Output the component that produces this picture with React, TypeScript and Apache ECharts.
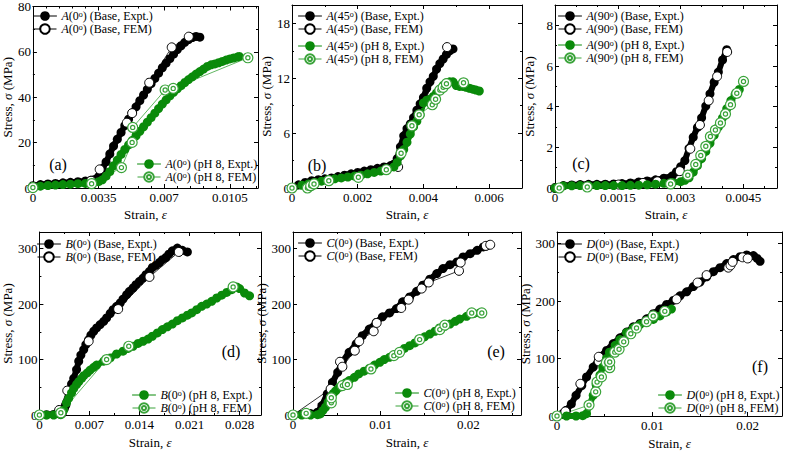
import React, { useEffect, useRef } from "react";
import * as echarts from "echarts";

type Pt = [number, number];

// ---------------- data (strain, stress MPa) ----------------
const A0_BASE_EXPT: Pt[] = [
  [0, 1.0], [0.0004, 1.5], [0.0008, 1.8], [0.0012, 2.0], [0.0016, 2.3], [0.002, 2.5], [0.0024, 2.8], [0.0028, 3.1],
  [0.0031, 3.4], [0.0033, 3.8], [0.0035, 5.0], [0.0037, 8.5], [0.0039, 11.5], [0.0041, 15.0], [0.0043, 18.5],
  [0.0045, 21.5], [0.0047, 24.5], [0.0049, 27.5], [0.0051, 30.3], [0.0053, 33.0], [0.0055, 35.8], [0.0057, 38.5],
  [0.0059, 41.0], [0.0061, 43.5], [0.0063, 46.0], [0.0065, 48.3], [0.0067, 50.6], [0.0069, 53.0], [0.0071, 55.0],
  [0.0073, 57.0], [0.0075, 59.0], [0.0077, 61.0], [0.0079, 62.7], [0.0081, 64.2], [0.0083, 65.4], [0.0085, 66.3],
  [0.0087, 66.8], [0.0089, 66.5],
];
const A0_BASE_FEM: Pt[] = [
  [0, 0.3], [0.0031, 3.2], [0.00356, 8.2], [0.00501, 28.8], [0.00529, 33.0], [0.0062, 46.4], [0.0074, 62.0], [0.00831, 66.7],
];
const A0_PH_EXPT: Pt[] = [
  [0, 0.4], [0.0004, 0.8], [0.0008, 1.1], [0.0012, 1.3], [0.0016, 1.5], [0.002, 1.7], [0.0024, 1.9], [0.0028, 2.0],
  [0.0032, 2.2], [0.0035, 2.8], [0.0037, 3.6], [0.0039, 5.2], [0.0041, 7.2], [0.0043, 9.8], [0.0045, 12.3],
  [0.0047, 14.8], [0.0049, 17.0], [0.0051, 19.0], [0.0053, 21.0], [0.0055, 23.0], [0.0057, 25.0], [0.0059, 27.0],
  [0.0061, 29.0], [0.0063, 31.0], [0.0065, 33.0], [0.0067, 35.0], [0.0069, 37.0], [0.0071, 38.8], [0.0073, 40.6],
  [0.0075, 42.2], [0.0077, 43.7], [0.0079, 45.1], [0.0081, 46.5], [0.0083, 47.8], [0.0085, 49.0], [0.0087, 50.2],
  [0.0089, 51.3], [0.0091, 52.4], [0.0093, 53.6], [0.0095, 54.3], [0.0097, 54.7], [0.0099, 55.2], [0.0101, 55.8],
  [0.0103, 56.4], [0.0105, 56.9], [0.0107, 57.3], [0.0109, 57.7], [0.011, 58.0],
];
const A0_PH_FEM: Pt[] = [
  [0, 0.2], [0.00313, 1.9], [0.00472, 9.0], [0.00529, 20.1], [0.00532, 26.7], [0.00705, 43.2], [0.00748, 43.9], [0.01146, 57.4],
];

const A45_BASE_EXPT: Pt[] = [
  [0, 0], [0.0002, 0.35], [0.0004, 0.6], [0.0006, 0.8], [0.0008, 0.9], [0.001, 1.0], [0.0012, 1.1], [0.0014, 1.25],
  [0.0016, 1.4], [0.0018, 1.55], [0.002, 1.7], [0.0022, 1.85], [0.0024, 2.0], [0.0026, 2.15], [0.0028, 2.3],
  [0.003, 2.45], [0.0031, 2.6], [0.0032, 3.2], [0.0033, 4.5], [0.0034, 5.7], [0.0035, 6.5], [0.0036, 7.0],
  [0.0037, 7.7], [0.0038, 8.5], [0.0039, 9.2], [0.004, 9.9], [0.0041, 10.9], [0.0042, 11.6], [0.0043, 12.2],
  [0.0044, 13.0], [0.0045, 13.6], [0.0046, 14.1], [0.0047, 14.6], [0.0048, 15.0], [0.0049, 15.2],
];
const A45_BASE_FEM: Pt[] = [[0, 0], [0.00323, 2.3], [0.00472, 15.4]];
const A45_PH_EXPT: Pt[] = [
  [0, 0], [0.0003, 0.3], [0.0005, 0.45], [0.0007, 0.6], [0.0009, 0.75], [0.0011, 0.9], [0.0013, 1.0], [0.0015, 1.1],
  [0.0017, 1.2], [0.0019, 1.3], [0.0021, 1.4], [0.0023, 1.55], [0.0025, 1.7], [0.0027, 1.85], [0.0029, 2.0],
  [0.0031, 2.3], [0.0032, 2.8], [0.0033, 3.5], [0.0034, 4.2], [0.0035, 5.0], [0.0036, 5.9], [0.0037, 6.7],
  [0.0038, 7.3], [0.0039, 8.0], [0.004, 9.3], [0.0041, 9.6], [0.0042, 9.7], [0.0043, 10.0], [0.0044, 10.4],
  [0.0045, 10.8], [0.0046, 11.2], [0.0047, 11.5], [0.0048, 11.6], [0.0049, 11.6], [0.005, 11.2], [0.0051, 11.1],
  [0.0052, 11.1], [0.0053, 11.0], [0.0054, 10.9], [0.0055, 10.8], [0.0056, 10.7], [0.0057, 10.6],
];
const A45_PH_FEM: Pt[] = [
  [0, 0], [0.00047, 0], [0.00057, 0.25], [0.00067, 0.44], [0.00112, 0.8], [0.00202, 1.17], [0.00287, 2.0],
  [0.00332, 3.8], [0.00365, 6.8], [0.00387, 8.0], [0.00427, 9.1], [0.00437, 9.7], [0.0045, 10.7], [0.0046, 11.0],
  [0.0047, 11.4], [0.00522, 11.5],
];

const A90_BASE_EXPT: Pt[] = [
  [0, 0], [0.0002, 0.12], [0.0004, 0.15], [0.0006, 0.17], [0.0008, 0.18], [0.001, 0.18], [0.0012, 0.19], [0.0014, 0.2],
  [0.0016, 0.22], [0.0018, 0.25], [0.002, 0.3], [0.0022, 0.35], [0.0024, 0.4], [0.0026, 0.48], [0.0028, 0.6],
  [0.0029, 0.8], [0.003, 1.05], [0.0031, 1.35], [0.0032, 1.95], [0.0033, 2.5], [0.0034, 2.98], [0.0035, 3.45],
  [0.0036, 4.03], [0.0037, 4.63], [0.0038, 5.2], [0.0039, 5.7], [0.004, 6.3], [0.0041, 6.8],
];
const A90_BASE_FEM: Pt[] = [
  [0, 0], [0.00152, 0.17], [0.0021, 0.25], [0.00244, 0.33], [0.00298, 0.83], [0.00323, 1.93], [0.00346, 3.1],
  [0.00367, 4.3], [0.00387, 5.49], [0.00411, 6.69],
];
const A90_PH_EXPT: Pt[] = [
  [0, 0], [0.0002, 0.1], [0.0004, 0.11], [0.0006, 0.12], [0.0008, 0.12], [0.001, 0.12], [0.0012, 0.12], [0.0014, 0.12],
  [0.0016, 0.12], [0.0018, 0.13], [0.002, 0.14], [0.0022, 0.16], [0.0024, 0.19], [0.0026, 0.23], [0.0028, 0.27],
  [0.003, 0.31], [0.0031, 0.38], [0.0032, 0.5], [0.0033, 0.78], [0.0034, 1.1], [0.0035, 1.45], [0.0036, 1.8],
  [0.0037, 2.2], [0.0038, 2.6], [0.0039, 3.0], [0.004, 3.45], [0.0041, 3.9], [0.0042, 4.3], [0.0043, 4.6], [0.0044, 4.85],
];
const A90_PH_FEM: Pt[] = [
  [0.0001, 0], [0.00077, 0.05], [0.00276, 0.2], [0.00317, 0.63], [0.00336, 1.16], [0.00348, 1.6], [0.0036, 2.05],
  [0.00371, 2.53], [0.00383, 2.85], [0.00395, 3.2], [0.00407, 3.64], [0.00419, 4.1], [0.00434, 4.66], [0.0045, 5.24],
];

const B0_BASE_EXPT: Pt[] = [
  [0, 0], [0.001, 0.5], [0.002, 1], [0.0028, 2], [0.0032, 3], [0.0035, 12], [0.0037, 18], [0.0041, 42], [0.0045, 56],
  [0.0048, 66], [0.0052, 82], [0.0055, 97], [0.0058, 108], [0.0062, 118], [0.0065, 127], [0.0069, 136], [0.0072, 144],
  [0.0076, 151], [0.008, 157], [0.0085, 163], [0.009, 169], [0.0094, 175], [0.0099, 183], [0.0103, 190], [0.0108, 196],
  [0.0113, 202], [0.0117, 209], [0.0122, 217], [0.0126, 223], [0.0131, 229], [0.0135, 235], [0.014, 241], [0.0145, 247],
  [0.0149, 253], [0.0154, 259], [0.0158, 266], [0.0163, 270], [0.0168, 275], [0.0172, 280], [0.0177, 284], [0.0181, 290],
  [0.0186, 296], [0.0193, 301], [0.02, 297], [0.0207, 294],
];
const B0_BASE_FEM: Pt[] = [[0, 0], [0.00276, 9], [0.0039, 44], [0.00689, 133], [0.01102, 191], [0.0154, 249], [0.0195, 294]];
const B0_PH_EXPT: Pt[] = [
  [0, 0], [0.001, 0], [0.002, 0], [0.003, 0.5], [0.0034, 9], [0.0038, 22], [0.0041, 30], [0.0045, 40], [0.0048, 48],
  [0.0052, 55], [0.0055, 60], [0.0059, 66], [0.0062, 71], [0.0067, 76], [0.0071, 81], [0.0076, 86], [0.008, 90],
  [0.009, 97], [0.0099, 103], [0.0108, 110], [0.0117, 115], [0.0124, 120], [0.0131, 124], [0.0138, 129], [0.0145, 133],
  [0.0152, 137], [0.0158, 142], [0.0165, 148], [0.0172, 154], [0.0179, 159], [0.0186, 164], [0.0193, 170], [0.02, 175],
  [0.0207, 180], [0.0213, 184], [0.022, 190], [0.0227, 196], [0.0234, 200], [0.0241, 205], [0.0248, 211], [0.0255, 216],
  [0.0262, 221], [0.0269, 226], [0.0276, 231], [0.028, 228], [0.0287, 220], [0.0294, 215],
];
const B0_PH_FEM: Pt[] = [[0, 0], [0.003, 4], [0.0094, 100], [0.0125, 124], [0.0271, 231]];

const C0_BASE_EXPT: Pt[] = [
  [0, 0], [0.001, 1], [0.002, 2.5], [0.0028, 5], [0.0033, 17], [0.0039, 38], [0.0045, 59], [0.0051, 77], [0.0056, 95],
  [0.0064, 113], [0.0072, 128], [0.0079, 143], [0.0087, 155], [0.0095, 167], [0.0102, 177], [0.011, 184], [0.0118, 192],
  [0.0125, 204], [0.0133, 213], [0.0141, 223], [0.0148, 234], [0.0156, 245], [0.0164, 255], [0.0171, 264], [0.0179, 271],
  [0.0187, 276], [0.0194, 285], [0.0202, 291], [0.021, 297], [0.0217, 303], [0.0221, 305],
];
const C0_BASE_FEM: Pt[] = [
  [0, 0], [0.00429, 47], [0.00536, 96], [0.00563, 87], [0.00705, 116], [0.00755, 133], [0.0092, 151], [0.00954, 166],
  [0.01234, 193], [0.01318, 208], [0.01467, 228], [0.01548, 239], [0.01893, 260], [0.01912, 275], [0.02199, 305], [0.02249, 307],
];
const C0_PH_EXPT: Pt[] = [
  [0, 0], [0.001, 0], [0.002, 0], [0.0028, 0.5], [0.0031, 2], [0.0034, 8], [0.0037, 14], [0.004, 23], [0.0043, 32],
  [0.0046, 39], [0.0049, 44], [0.0053, 50], [0.0056, 54], [0.006, 58], [0.0064, 62], [0.007, 68], [0.0075, 74],
  [0.0081, 79], [0.0087, 84], [0.0093, 90], [0.0099, 95], [0.0104, 100], [0.011, 104], [0.0116, 109], [0.0122, 114],
  [0.0127, 120], [0.0133, 125], [0.0139, 130], [0.0144, 136], [0.015, 141], [0.0156, 146], [0.0162, 151], [0.0167, 157],
  [0.0173, 160], [0.0179, 164], [0.0185, 169], [0.019, 173], [0.0198, 178], [0.0206, 183], [0.0213, 184],
];
const C0_PH_FEM: Pt[] = [
  [0, 0], [0.0015, 3], [0.00437, 22], [0.00437, 31], [0.00563, 53], [0.0062, 55], [0.00889, 83], [0.0115, 107],
  [0.01215, 113], [0.01444, 136], [0.01674, 154], [0.01732, 162], [0.02038, 184], [0.02153, 184],
];

const D0_BASE_EXPT: Pt[] = [
  [0, 0], [0.0006, 4], [0.001, 10], [0.0015, 21], [0.002, 36], [0.0026, 53], [0.0031, 68], [0.0038, 85], [0.0045, 103],
  [0.0052, 114], [0.0059, 126], [0.0066, 136], [0.0073, 146], [0.008, 155], [0.0087, 161], [0.0094, 169], [0.0101, 178],
  [0.0108, 186], [0.0115, 194], [0.0122, 201], [0.0129, 209], [0.0136, 216], [0.0143, 225], [0.015, 233], [0.0157, 242],
  [0.0164, 251], [0.0171, 258], [0.0178, 265], [0.0185, 272], [0.0192, 277], [0.0199, 280], [0.0206, 279], [0.021, 274],
  [0.0213, 269],
];
const D0_BASE_FEM: Pt[] = [
  [0, 0], [0.00088, 8], [0.00245, 56], [0.00438, 95], [0.00438, 103], [0.01254, 203], [0.01475, 232], [0.01569, 245],
  [0.01797, 258], [0.0182, 262], [0.01842, 268], [0.01947, 276], [0.02, 274],
];
const D0_PH_EXPT: Pt[] = [
  [0, 0], [0.001, 0], [0.002, 0], [0.0027, 0.5], [0.0031, 4], [0.0034, 19], [0.0038, 36], [0.0041, 55], [0.0045, 71],
  [0.0048, 85], [0.0052, 100], [0.0055, 111], [0.0061, 123], [0.0066, 133], [0.0073, 145], [0.008, 153], [0.0087, 159],
  [0.0094, 164], [0.0101, 168], [0.0108, 174], [0.0115, 181], [0.012, 186],
];
const D0_PH_FEM: Pt[] = [
  [0, 0], [0.00336, 19], [0.00406, 42], [0.0042, 59], [0.00466, 68], [0.00518, 93], [0.00553, 84], [0.00553, 94],
  [0.00606, 111], [0.00651, 116], [0.007, 129], [0.00774, 143], [0.00834, 153], [0.00939, 164], [0.01009, 174], [0.01131, 182],
];

// ---------------- styling / layout ----------------
const FONT = "Liberation Serif";
const BLACK = "#000000";
const GREEN = "#0a8a0a";
const GREEN_FEM = "#3aa33a";
const RING =
  "path://M10 0A10 10 0 1 1 -10 0A10 10 0 1 1 10 0ZM4.2 0A4.2 4.2 0 1 1 -4.2 0A4.2 4.2 0 1 1 4.2 0Z";

type Panel = {
  tag: string;
  spec: string;
  angle: string;
  grid: { left: number; top: number; width: number; height: number };
  x: { max: number; interval: number; minor: number };
  y: { max: number; interval: number; minor: number; showMax: boolean };
  yGap: number;
  xGap: number;
  tagPos: [number, number];
  legBase: [number, number];
  legPh: [number, number];
  data: [Pt[], Pt[], Pt[], Pt[]];
};

const PANELS: Panel[] = [
  {
    tag: "(a)", spec: "A", angle: "0",
    grid: { left: 29, top: 5, width: 229, height: 183 },
    x: { max: 0.012, interval: 0.0035, minor: 5 }, y: { max: 80, interval: 20, minor: 2, showMax: true },
    yGap: 15, xGap: 20, tagPos: [58, 164], legBase: [33, 10], legPh: [137, 158],
    data: [A0_BASE_EXPT, A0_BASE_FEM, A0_PH_EXPT, A0_PH_FEM],
  },
  {
    tag: "(b)", spec: "A", angle: "45",
    grid: { left: 292, top: 5, width: 230, height: 183 },
    x: { max: 0.007, interval: 0.002, minor: 2 }, y: { max: 20, interval: 6, minor: 2, showMax: false },
    yGap: 17, xGap: 20, tagPos: [317, 165], legBase: [298, 10], legPh: [298, 40],
    data: [A45_BASE_EXPT, A45_BASE_FEM, A45_PH_EXPT, A45_PH_FEM],
  },
  {
    tag: "(c)", spec: "A", angle: "90",
    grid: { left: 555, top: 5, width: 222, height: 183 },
    x: { max: 0.0053, interval: 0.0015, minor: 3 }, y: { max: 9, interval: 2, minor: 2, showMax: false },
    yGap: 19, xGap: 20, tagPos: [581, 163], legBase: [558, 10], legPh: [558, 39],
    data: [A90_BASE_EXPT, A90_BASE_FEM, A90_PH_EXPT, A90_PH_FEM],
  },
  {
    tag: "(d)", spec: "B", angle: "0",
    grid: { left: 30, top: 232, width: 231, height: 183 },
    x: { max: 0.031, interval: 0.007, minor: 2 }, y: { max: 330, interval: 100, minor: 2, showMax: false },
    yGap: 14, xGap: 21, tagPos: [231, 351], legBase: [37, 238], legPh: [132, 389],
    data: [B0_BASE_EXPT, B0_BASE_FEM, B0_PH_EXPT, B0_PH_FEM],
  },
  {
    tag: "(e)", spec: "C", angle: "0",
    grid: { left: 293, top: 232, width: 228, height: 183 },
    x: { max: 0.026, interval: 0.01, minor: 2 }, y: { max: 330, interval: 100, minor: 2, showMax: false },
    yGap: 16, xGap: 21, tagPos: [496, 351], legBase: [298, 237], legPh: [395, 387],
    data: [C0_BASE_EXPT, C0_BASE_FEM, C0_PH_EXPT, C0_PH_FEM],
  },
  {
    tag: "(f)", spec: "D", angle: "0",
    grid: { left: 557, top: 232, width: 225, height: 184 },
    x: { max: 0.0236, interval: 0.01, minor: 2 }, y: { max: 320, interval: 100, minor: 2, showMax: false },
    yGap: 17, xGap: 21, tagPos: [760, 366], legBase: [558, 238], legPh: [658, 389],
    data: [D0_BASE_EXPT, D0_BASE_FEM, D0_PH_EXPT, D0_PH_FEM],
  },
];

const KINDS = ["(Base, Expt.)", "(Base, FEM)", "(pH 8, Expt.)", "(pH 8, FEM)"];

function seriesName(p: Panel, k: number) {
  return `${p.spec}(${p.angle}°) ${KINDS[k]}`;
}
function richName(name: string) {
  return name.replace(/^([A-D])\((\d+)°\)/, "{i|$1}($2{s|o})");
}

const RICH = {
  i: { fontStyle: "italic", fontFamily: FONT, fontSize: 12, color: BLACK, lineHeight: 12 },
  s: { fontFamily: FONT, fontSize: 8, color: BLACK, verticalAlign: "top", lineHeight: 6 },
};

function buildOption() {
  const grid: any[] = [];
  const xAxis: any[] = [];
  const yAxis: any[] = [];
  const series: any[] = [];
  const legend: any[] = [];
  const graphic: any[] = [];

  const axisLine = { show: true, onZero: false, lineStyle: { color: BLACK, width: 1 } };
  const tick = { show: true, inside: true, length: 4, lineStyle: { color: BLACK, width: 1 } };
  const minor = (n: number) => ({ show: true, splitNumber: n, length: 2, lineStyle: { color: BLACK, width: 1 } });
  const label = { color: BLACK, fontFamily: FONT, fontSize: 13 };
  const nameStyle = {
    color: BLACK, fontFamily: FONT, fontSize: 13,
    rich: { i: { fontStyle: "italic", fontFamily: FONT, fontSize: 13, color: BLACK } },
  };

  PANELS.forEach((p, i) => {
    grid.push({ ...p.grid, containLabel: false });
    const xBase = { type: "value", gridIndex: i, min: 0, max: p.x.max, interval: p.x.interval, splitLine: { show: false } };
    const yBase = { type: "value", gridIndex: i, min: 0, max: p.y.max, interval: p.y.interval, splitLine: { show: false } };
    xAxis.push({
      ...xBase, position: "bottom", axisLine, axisTick: tick, minorTick: minor(p.x.minor),
      axisLabel: { ...label, margin: 3, showMaxLabel: false },
      name: "Strain, {i|ε}", nameLocation: "middle", nameGap: p.xGap, nameTextStyle: nameStyle,
    });
    xAxis.push({
      ...xBase, position: "top", axisLine, axisTick: tick, minorTick: minor(p.x.minor), axisLabel: { show: false },
    });
    yAxis.push({
      ...yBase, position: "left", axisLine, axisTick: tick, minorTick: minor(p.y.minor),
      axisLabel: { ...label, margin: 2, showMaxLabel: p.y.showMax },
      name: "Stress, {i|σ} (MPa)", nameLocation: "middle", nameRotate: 90, nameGap: p.yGap, nameTextStyle: nameStyle,
    });
    yAxis.push({
      ...yBase, position: "right", axisLine, axisTick: tick, minorTick: minor(p.y.minor), axisLabel: { show: false },
    });

    const names = [0, 1, 2, 3].map((k) => seriesName(p, k));
    const common = { type: "line", xAxisIndex: 2 * i, yAxisIndex: 2 * i, silent: true, animation: false, clip: false };
    series.push({
      ...common, name: names[0], data: p.data[0], symbol: "circle", symbolSize: 9,
      itemStyle: { color: BLACK, borderColor: BLACK, borderWidth: 0 },
      lineStyle: { color: BLACK, width: 6, cap: "round", join: "round" },
    });
    series.push({
      ...common, name: names[1], data: p.data[1], symbol: "circle", symbolSize: 9,
      itemStyle: { color: "#ffffff", borderColor: BLACK, borderWidth: 1 },
      lineStyle: { color: BLACK, width: 0.8 },
    });
    series.push({
      ...common, name: names[2], data: p.data[2], symbol: "circle", symbolSize: 9,
      itemStyle: { color: GREEN, borderColor: GREEN, borderWidth: 0 },
      lineStyle: { color: GREEN, width: 6, cap: "round", join: "round" },
    });
    series.push({
      ...common, name: names[3], data: p.data[3], symbol: RING, symbolSize: 10,
      itemStyle: { color: "#ffffff", borderColor: GREEN_FEM, borderWidth: 1.2 },
      lineStyle: { color: GREEN_FEM, width: 0.8 },
    });

    const legCommon = {
      orient: "vertical", padding: 0, itemGap: 1, itemWidth: 23, itemHeight: 12, selectedMode: false,
      lineStyle: { width: 1 },
      textStyle: { color: BLACK, fontFamily: FONT, fontSize: 12, lineHeight: 12, rich: RICH },
      formatter: (n: string) => richName(n),
    };
    legend.push({ ...legCommon, left: p.legBase[0], top: p.legBase[1], data: [names[0], names[1]] });
    legend.push({ ...legCommon, left: p.legPh[0], top: p.legPh[1], data: [names[2], names[3]] });

    graphic.push({
      type: "text", x: p.tagPos[0], y: p.tagPos[1], silent: true,
      style: { text: p.tag, fill: BLACK, fontFamily: FONT, fontSize: 16, align: "center", verticalAlign: "middle" },
    });
  });

  return {
    animation: false, backgroundColor: "#ffffff",
    textStyle: { fontFamily: FONT },
    grid, xAxis, yAxis, series, legend, graphic,
  };
}

export default function App() {
  const ref = useRef<HTMLDivElement>(null);
  useEffect(() => {
    if (!ref.current) return;
    const chart = echarts.init(ref.current, undefined, { renderer: "svg" });
    chart.setOption(buildOption() as any);
    return () => chart.dispose();
  }, []);
  return (
    <div
      ref={ref}
      style={{ position: "absolute", left: 0, top: 0, width: 787, height: 451, background: "#fff" }}
    />
  );
}
